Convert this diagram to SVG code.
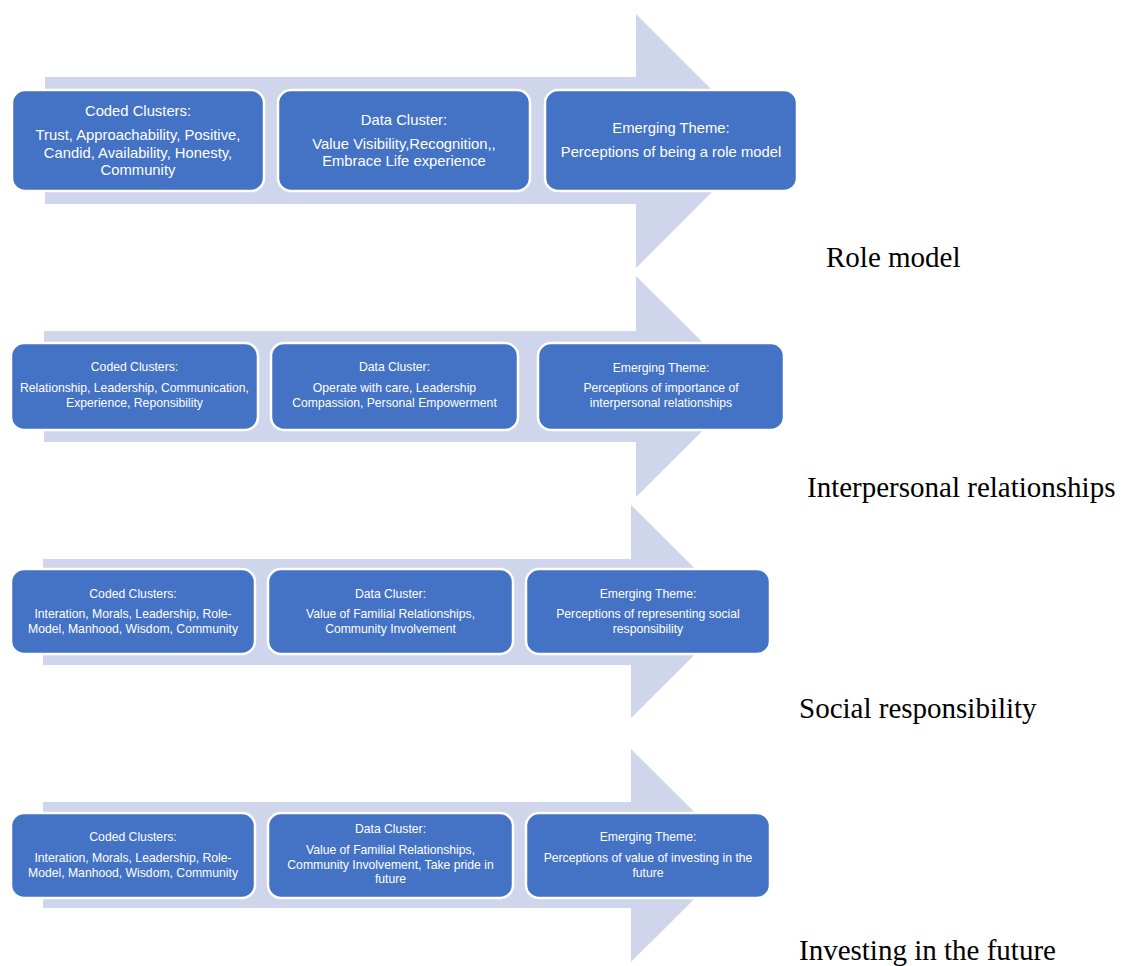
<svg xmlns="http://www.w3.org/2000/svg" width="1123" height="966" viewBox="0 0 1123 966">
<style>
.arrow{fill:#CFD5EA}
.box{fill:#4472C4;stroke:#FFFFFF;stroke-width:2.5}
.t1{font-family:"Liberation Sans",Arial,sans-serif;font-size:14.8px;fill:#FFFFFF;text-anchor:middle}
.t2{font-family:"Liberation Sans",Arial,sans-serif;font-size:12.2px;fill:#FFFFFF;text-anchor:middle}
.lbl{font-family:"Liberation Serif","Times New Roman",serif;font-size:29px;fill:#000000}
</style>
<rect width="1123" height="966" fill="#FFFFFF"/>
<g id="connectors">
<polygon class="arrow" points="45,77 636,77 636,14 763,141 636,268 636,204 45,204"/>
<polygon class="arrow" points="44,331 636,331 636,276 747,386.5 636,497 636,442 44,442"/>
<polygon class="arrow" points="43,559 631,559 631,505 738,611.5 631,718 631,665 43,665"/>
<polygon class="arrow" points="43,802 631,802 631,749 738,855.5 631,962 631,908 43,908"/>
</g>
<g id="r1-coded">
<rect class="box" x="12" y="90" width="252" height="101" rx="13"/>
<text class="t1" x="138" y="116">Coded Clusters:</text>
<text class="t1" x="138" y="140">Trust, Approachability, Positive,</text>
<text class="t1" x="138" y="157.5">Candid, Availability, Honesty,</text>
<text class="t1" x="138" y="175">Community</text>
</g>
<g id="r1-data">
<rect class="box" x="278" y="90" width="252" height="101" rx="13"/>
<text class="t1" x="404" y="125">Data Cluster:</text>
<text class="t1" x="404" y="149">Value Visibility,Recognition,,</text>
<text class="t1" x="404" y="166">Embrace Life experience</text>
</g>
<g id="r1-theme">
<rect class="box" x="545" y="90" width="252" height="101" rx="13"/>
<text class="t1" x="671" y="133">Emerging Theme:</text>
<text class="t1" x="671" y="157">Perceptions of being a role model</text>
</g>
<g id="r2-coded">
<rect class="box" x="11" y="343" width="247" height="87" rx="13"/>
<text class="t2" x="134.5" y="371">Coded Clusters:</text>
<text class="t2" x="134.5" y="392">Relationship, Leadership, Communication,</text>
<text class="t2" x="134.5" y="407">Experience, Reponsibility</text>
</g>
<g id="r2-data">
<rect class="box" x="271" y="343" width="247" height="87" rx="13"/>
<text class="t2" x="394.5" y="371">Data Cluster:</text>
<text class="t2" x="394.5" y="392">Operate with care, Leadership</text>
<text class="t2" x="394.5" y="407">Compassion, Personal Empowerment</text>
</g>
<g id="r2-theme">
<rect class="box" x="538" y="343" width="246" height="87" rx="13"/>
<text class="t2" x="661" y="372">Emerging Theme:</text>
<text class="t2" x="661" y="392">Perceptions of importance of</text>
<text class="t2" x="661" y="407">interpersonal relationships</text>
</g>
<g id="r3-coded">
<rect class="box" x="11" y="569" width="244" height="85" rx="13"/>
<text class="t2" x="133" y="598">Coded Clusters:</text>
<text class="t2" x="133" y="618">Interation, Morals, Leadership, Role-</text>
<text class="t2" x="133" y="633">Model, Manhood, Wisdom, Community</text>
</g>
<g id="r3-data">
<rect class="box" x="268" y="569" width="245" height="85" rx="13"/>
<text class="t2" x="390.5" y="598">Data Cluster:</text>
<text class="t2" x="390.5" y="618">Value of Familial Relationships,</text>
<text class="t2" x="390.5" y="633">Community Involvement</text>
</g>
<g id="r3-theme">
<rect class="box" x="526" y="569" width="244" height="85" rx="13"/>
<text class="t2" x="648" y="598">Emerging Theme:</text>
<text class="t2" x="648" y="618">Perceptions of representing social</text>
<text class="t2" x="648" y="633">responsibility</text>
</g>
<g id="r4-coded">
<rect class="box" x="11" y="813" width="244" height="85" rx="13"/>
<text class="t2" x="133" y="841">Coded Clusters:</text>
<text class="t2" x="133" y="862">Interation, Morals, Leadership, Role-</text>
<text class="t2" x="133" y="877">Model, Manhood, Wisdom, Community</text>
</g>
<g id="r4-data">
<rect class="box" x="268" y="813" width="245" height="85" rx="13"/>
<text class="t2" x="390.5" y="833">Data Cluster:</text>
<text class="t2" x="390.5" y="854">Value of Familial Relationships,</text>
<text class="t2" x="390.5" y="869">Community Involvement, Take pride in</text>
<text class="t2" x="390.5" y="883">future</text>
</g>
<g id="r4-theme">
<rect class="box" x="526" y="813" width="244" height="85" rx="13"/>
<text class="t2" x="648" y="841">Emerging Theme:</text>
<text class="t2" x="648" y="862">Perceptions of value of investing in the</text>
<text class="t2" x="648" y="877">future</text>
</g>
<g id="labels">
<text class="lbl" x="826" y="267">Role model</text>
<text class="lbl" x="807" y="497">Interpersonal relationships</text>
<text class="lbl" x="799" y="718">Social responsibility</text>
<text class="lbl" x="799" y="960">Investing in the future</text>
</g>
</svg>
